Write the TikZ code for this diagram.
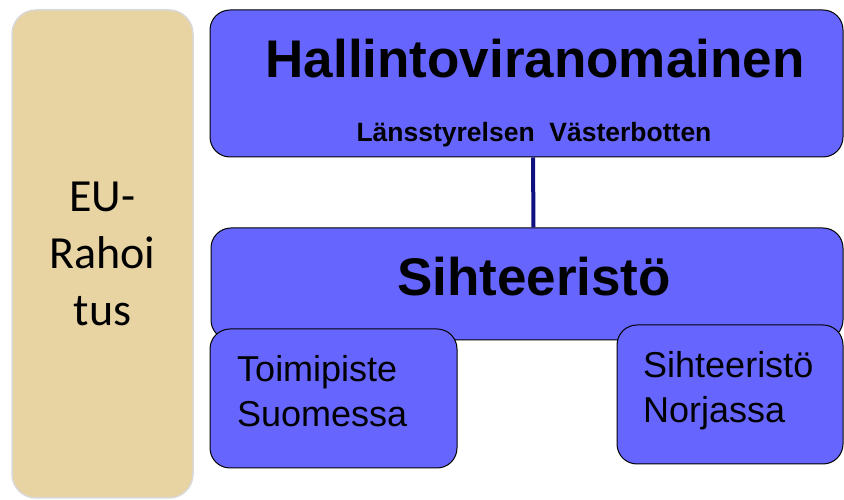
\documentclass[tikz,border=0pt]{standalone}
\usepackage{fontspec}
\setmainfont{Liberation Sans}
\newfontfamily\eufont{Carlito}
\usetikzlibrary{positioning}
\definecolor{boxBlue}{RGB}{102,102,255}
\definecolor{lineNavy}{RGB}{16,16,128}
\definecolor{paperTan}{RGB}{232,212,162}

\tikzset{
	orgbox/.style={draw=black,line width=1pt,fill=boxBlue,rounded corners=20pt,inner sep=0pt},
	fundbox/.style={draw=gray!30,line width=1.5pt,fill=paperTan,rounded corners=24pt,inner sep=0pt},
	subtext/.style={font=\fontsize{36}{45}\selectfont,align=left,anchor=north west,inner sep=0pt},
}

\begin{document}
\begin{tikzpicture}[x=1pt,y=1pt]
		\useasboundingbox (0,0) rectangle (844,500);
		
		% rahoitus
		\node[fundbox,minimum width=181pt,minimum height=488pt,align=center,font=\eufont\fontsize{46}{57}\selectfont] (fund) at (102.5,246) {EU-\\Rahoi\\tus};
		
		% paaboksit
		\node[orgbox,minimum width=633pt,minimum height=147pt] (hallinto) at (526.5,416.5) {};
		\node[orgbox,minimum width=632pt,minimum height=112pt] (sihteeristo) at (527,216) {};
		\node[font=\bfseries\fontsize{53}{60}\selectfont,anchor=base,inner sep=0pt] (hallintoname) at (535,422) {Hallintoviranomainen};
		\node[font=\bfseries\fontsize{26.5}{30}\selectfont,anchor=base,inner sep=0pt] (lansname) at (534,358) {Länsstyrelsen\ \ Västerbotten};
		\node[font=\bfseries\fontsize{53}{60}\selectfont,anchor=base,inner sep=0pt] (sihteeristoname) at (534,204) {Sihteeristö};
		\draw[lineNavy,line width=4pt] ([xshift=6.5pt]hallinto.south) -- ([xshift=6.5pt]sihteeristo.north);
		
		% toimipisteet
		\node[orgbox,minimum width=247pt,minimum height=139pt] (suomi) at (333.5,101.5) {};
		\node[orgbox,minimum width=226pt,minimum height=139pt] (norja) at (730,105.5) {};
		\node[subtext] (suomitext) at (237,145) {Toimipiste\\Suomessa};
		\node[subtext] (norjatext) at (643,149) {Sihteeristö\\Norjassa};
	\end{tikzpicture}
\end{document}
